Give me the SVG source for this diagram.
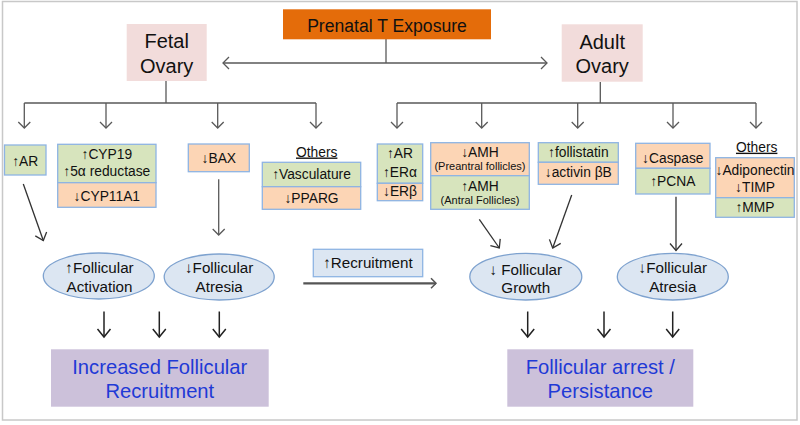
<svg xmlns="http://www.w3.org/2000/svg" width="800" height="425" viewBox="0 0 800 425">
<defs>
<style>
text{font-family:"Liberation Sans",Arial,sans-serif;fill:#111;text-anchor:middle}
.t13{font-size:13.8px}
.t11{font-size:11px}
.t15{font-size:15.2px}
.t20{font-size:20px}
.big{font-size:20.2px;fill:#1f3ad6}
.g{fill:#d7e4bd;stroke:#8eb4e3;stroke-width:1.3}
.o{fill:#fcd5b5;stroke:#8eb4e3;stroke-width:1.3}
.pink{fill:#f2dcdb}
.purple{fill:#ccc1da}
.ell{fill:#dce6f2;stroke:#7ea2cf;stroke-width:1.3}
.c1{fill:none;stroke:#595959;stroke-width:1.3}
.c2{fill:none;stroke:#333;stroke-width:1.3}
.c3{fill:none;stroke:#222;stroke-width:1.5}
.c4{fill:none;stroke:#555;stroke-width:2.2}
</style>
<marker id="m1" viewBox="-8 -8 10 16" refX="0" refY="0" markerWidth="10" markerHeight="16" markerUnits="userSpaceOnUse" orient="auto"><path d="M-6,-6 L0,0 L-6,6" fill="none" stroke="#595959" stroke-width="1.3"/></marker>
<marker id="m2" viewBox="-9 -8 11 16" refX="0" refY="0" markerWidth="11" markerHeight="16" markerUnits="userSpaceOnUse" orient="auto"><path d="M-7,-6 L0,0 L-7,6" fill="none" stroke="#333" stroke-width="1.3"/></marker>
<marker id="m3" viewBox="-10 -8 12 16" refX="0" refY="0" markerWidth="12" markerHeight="16" markerUnits="userSpaceOnUse" orient="auto"><path d="M-8,-6.5 L0,0 L-8,6.5" fill="none" stroke="#222" stroke-width="1.5"/></marker>
<marker id="m4" viewBox="-8 -7 10 14" refX="0" refY="0" markerWidth="10" markerHeight="14" markerUnits="userSpaceOnUse" orient="auto"><path d="M-5,-5 L0,0 L-5,5" fill="none" stroke="#555" stroke-width="1.5"/></marker>
</defs>
<rect x="2.5" y="1.5" width="794.5" height="418.5" fill="#fff" stroke="#c8c8c8" stroke-width="1.5"/>

<g id="connectors">
<path class="c1" d="M386,39 V63"/>
<path class="c1" d="M386,63 H223" marker-end="url(#m1)"/>
<path class="c1" d="M386,63 H547" marker-end="url(#m1)"/>
<path class="c1" d="M166,81 V103 M24.3,103 H316"/>
<path class="c1" d="M24.3,103 V128" marker-end="url(#m1)"/>
<path class="c1" d="M106,103 V128" marker-end="url(#m1)"/>
<path class="c1" d="M217.7,103 V128" marker-end="url(#m1)"/>
<path class="c1" d="M316,103 V128" marker-end="url(#m1)"/>
<path class="c1" d="M600.3,82 V103 M397,103 H756"/>
<path class="c1" d="M397,103 V128" marker-end="url(#m1)"/>
<path class="c1" d="M481.7,103 V128" marker-end="url(#m1)"/>
<path class="c1" d="M577.7,103 V128" marker-end="url(#m1)"/>
<path class="c1" d="M673,103 V128" marker-end="url(#m1)"/>
<path class="c1" d="M756,103 V128" marker-end="url(#m1)"/>
<path class="c2" d="M23.3,184 L43.3,240.5" marker-end="url(#m2)"/>
<path class="c1" d="M218.7,179.3 V235" marker-end="url(#m1)"/>
<path class="c2" d="M479.3,219.3 L499.3,248" marker-end="url(#m2)"/>
<path class="c2" d="M571.7,195 L552.7,248" marker-end="url(#m2)"/>
<path class="c2" d="M676,196.7 V250.5" marker-end="url(#m2)"/>
<path class="c4" d="M303.3,283.3 H436" marker-end="url(#m4)"/>
<path class="c3" d="M104,311.5 V337" marker-end="url(#m3)"/>
<path class="c3" d="M159.3,311.5 V337" marker-end="url(#m3)"/>
<path class="c3" d="M219.3,311.5 V337" marker-end="url(#m3)"/>
<path class="c3" d="M527.7,311.5 V337" marker-end="url(#m3)"/>
<path class="c3" d="M604,311.5 V337" marker-end="url(#m3)"/>
<path class="c3" d="M672.7,311.5 V337" marker-end="url(#m3)"/>
</g>

<g id="prenatal">
<rect x="283" y="9.3" width="208" height="30" fill="#e46c0a"/>
<text x="387" y="31.5" style="font-size:17.6px">Prenatal T Exposure</text>
</g>
<g id="fetal-ovary">
<rect class="pink" x="126.7" y="24" width="80" height="57"/>
<text class="t20" x="166.7" y="48">Fetal</text>
<text class="t20" x="166.7" y="72.5">Ovary</text>
</g>
<g id="adult-ovary">
<rect class="pink" x="561.7" y="24.3" width="81" height="57.4"/>
<text class="t20" x="602.2" y="49">Adult</text>
<text class="t20" x="602.2" y="73">Ovary</text>
</g>

<g id="f-ar">
<rect class="g" x="4.5" y="145" width="41.5" height="30"/>
<text class="t13" x="25.2" y="165.5">↑AR</text>
</g>
<g id="f-cyp">
<rect class="g" x="57.7" y="144.3" width="98.3" height="38.4"/>
<rect class="o" x="57.7" y="182.7" width="98.3" height="24.6"/>
<text class="t13" x="106.8" y="158.5">↑CYP19</text>
<text class="t13" x="106.8" y="176">↑5α reductase</text>
<text class="t13" x="106.8" y="201">↓CYP11A1</text>
</g>
<g id="f-bax">
<rect class="o" x="188.3" y="144" width="61" height="27.7"/>
<text class="t13" x="218.8" y="163">↓BAX</text>
</g>
<g id="f-others">
<text class="t13" x="316.7" y="156.5" text-decoration="underline">Others</text>
<rect class="g" x="262.3" y="162.3" width="98.4" height="24.4"/>
<rect class="o" x="262.3" y="186.7" width="98.4" height="22.6"/>
<text class="t13" x="311.5" y="178.5">↑Vasculature</text>
<text class="t13" x="311.5" y="203">↓PPARG</text>
</g>

<g id="a-ar">
<rect class="g" x="377.3" y="144" width="45.4" height="39.3"/>
<rect class="o" x="377.3" y="183.3" width="45.4" height="17.4"/>
<text class="t13" x="400" y="158.3">↑AR</text>
<text class="t13" x="400" y="176.7">↑ERα</text>
<text class="t13" x="400" y="195.7">↓ERβ</text>
</g>
<g id="a-amh">
<rect class="o" x="430.7" y="142.7" width="98.6" height="33"/>
<rect class="g" x="430.7" y="175.7" width="98.6" height="33.6"/>
<text class="t13" x="480" y="156.7">↓AMH</text>
<text class="t11" x="480" y="170">(Preantral follicles)</text>
<text class="t13" x="480" y="190.7">↑AMH</text>
<text class="t11" x="480" y="204">(Antral Follicles)</text>
</g>
<g id="a-follistatin">
<rect class="g" x="538.3" y="142.7" width="80" height="19.6"/>
<rect class="o" x="538.3" y="162.3" width="80" height="22"/>
<text class="t13" x="578.3" y="156.7">↑follistatin</text>
<text class="t13" x="578.3" y="177">↓activin βB</text>
</g>
<g id="a-caspase">
<rect class="o" x="635.7" y="143.3" width="74.3" height="25"/>
<rect class="g" x="635.7" y="168.3" width="74.3" height="25.7"/>
<text class="t13" x="672.8" y="163.3">↓Caspase</text>
<text class="t13" x="672.8" y="185.5">↑PCNA</text>
</g>
<g id="a-others">
<text class="t13" x="756.7" y="151.7" text-decoration="underline">Others</text>
<rect class="o" x="715.7" y="157.7" width="78.6" height="40"/>
<rect class="g" x="715.7" y="197.7" width="78.6" height="19.6"/>
<text class="t13" x="755" y="175">↓Adiponectin</text>
<text class="t13" x="755" y="191.7">↓TIMP</text>
<text class="t13" x="755" y="212">↑MMP</text>
</g>

<g id="e-activation">
<ellipse class="ell" cx="98.8" cy="276" rx="55.5" ry="23"/>
<text class="t15" x="99.5" y="273.3">↑Follicular</text>
<text class="t15" x="99.5" y="291.7">Activation</text>
</g>
<g id="e-atresia-f">
<ellipse class="ell" cx="219.2" cy="277" rx="55" ry="23"/>
<text class="t15" x="219.2" y="273.3">↓Follicular</text>
<text class="t15" x="219.2" y="291.7">Atresia</text>
</g>
<g id="recruitment">
<rect x="313.3" y="249.3" width="109.4" height="27.4" fill="#dce6f2" stroke="#8eb4e3" stroke-width="1.3"/>
<text class="t15" x="368" y="267.5">↑Recruitment</text>
</g>
<g id="e-growth">
<ellipse class="ell" cx="525.8" cy="276.7" rx="56" ry="23.3"/>
<text class="t15" x="525.8" y="275">↓ Follicular</text>
<text class="t15" x="525.8" y="293.3">Growth</text>
</g>
<g id="e-atresia-a">
<ellipse class="ell" cx="672.8" cy="276.7" rx="55.5" ry="23.3"/>
<text class="t15" x="672.8" y="273.3">↓Follicular</text>
<text class="t15" x="672.8" y="291.7">Atresia</text>
</g>

<g id="out-recruitment">
<rect class="purple" x="51" y="349.3" width="217.7" height="57.4"/>
<text class="big" x="159.8" y="373.5">Increased Follicular</text>
<text class="big" x="159.8" y="398">Recruitment</text>
</g>
<g id="out-arrest">
<rect class="purple" x="507.3" y="349.3" width="186" height="57.4"/>
<text class="big" x="600.3" y="373.5">Follicular arrest /</text>
<text class="big" x="600.3" y="398">Persistance</text>
</g>
</svg>
